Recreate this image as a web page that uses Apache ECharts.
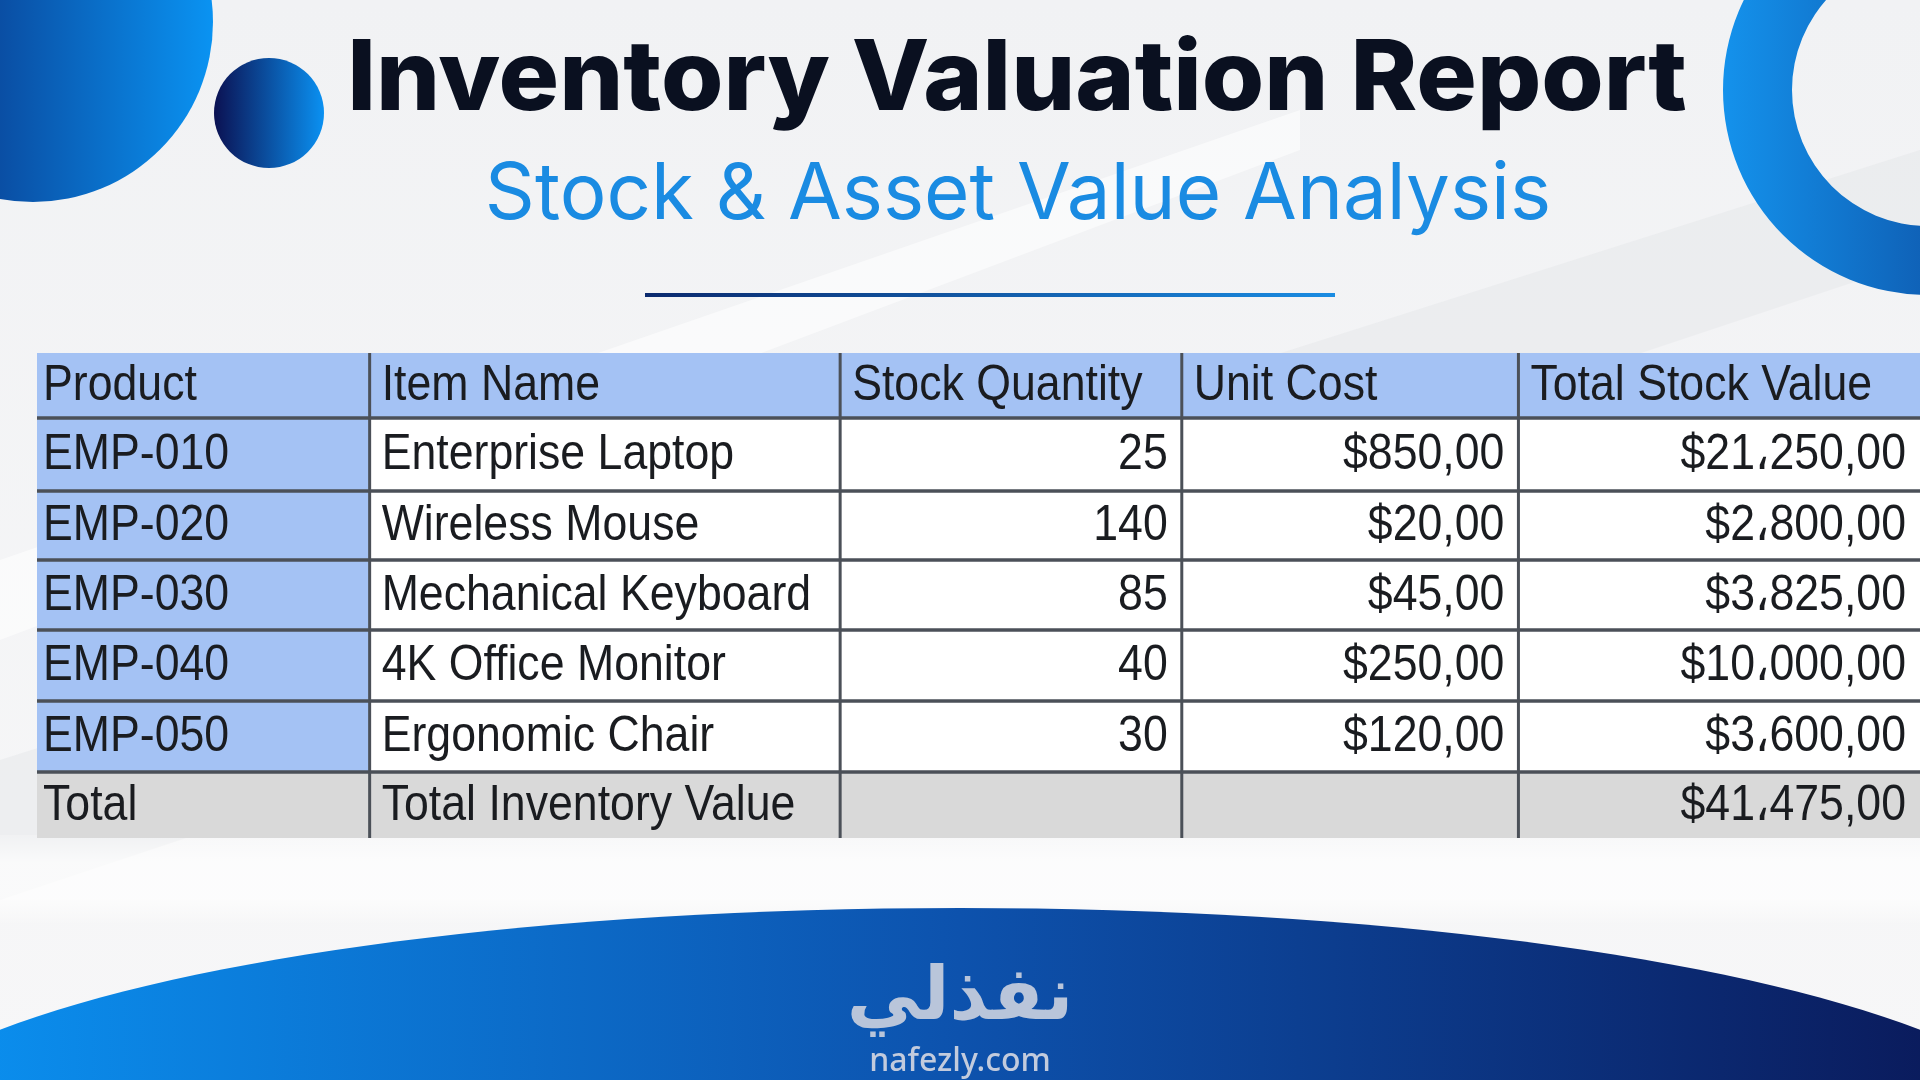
<!DOCTYPE html>
<html>
<head>
<meta charset="utf-8">
<title>Inventory Valuation Report</title>
<script src="https://cdn.jsdelivr.net/npm/echarts@6/dist/echarts.min.js"></script>
<style>
  html, body { margin: 0; padding: 0; width: 1920px; height: 1080px; overflow: hidden; background: #f3f4f6; }
  #chart { width: 1920px; height: 1080px; }
</style>
</head>
<body>
<div id="chart"></div>
<script>
// ---------------- DATA ----------------
const headers = ['Product', 'Item Name', 'Stock Quantity', 'Unit Cost', 'Total Stock Value'];
const productIds = ['EMP-010', 'EMP-020', 'EMP-030', 'EMP-040', 'EMP-050'];
const itemNames = ['Enterprise Laptop', 'Wireless Mouse', 'Mechanical Keyboard', '4K Office Monitor', 'Ergonomic Chair'];
const stockQty = [25, 140, 85, 40, 30];
const unitCost = [850, 20, 45, 250, 120];
const totalValue = [21250, 2800, 3825, 10000, 3600];
const totalLabel = 'Total';
const totalName = 'Total Inventory Value';
const totalInventory = 41475;

const titleText = 'Inventory Valuation Report';
const subtitleText = 'Stock & Asset Value Analysis';
const logoArabic = 'نفذلي';
const logoLatin = 'nafezly.com';

// ---------------- LAYOUT ----------------
const colWidths = [333, 471, 342, 337, 402];
const rowHeights = [65, 73, 69, 70, 71, 71, 66];
const colEdges = [0];
colWidths.forEach(w => colEdges.push(colEdges[colEdges.length - 1] + w));
const rowEdges = [0];
rowHeights.forEach(h => rowEdges.push(rowEdges[rowEdges.length - 1] + h));
const tableW = colEdges[colEdges.length - 1];
const tableH = rowEdges[rowEdges.length - 1];

function money(v) {
  const s = Math.round(v).toString().replace(/\B(?=(\d{3})+(?!\d))/g, '\u060C');
  return '$' + s + ',00';
}

const nRows = productIds.length + 2;
const nCols = headers.length;
function cellInfo(c, r) {
  if (r === 0) return { text: headers[c], align: 'left', kind: 'header' };
  if (r === nRows - 1) {
    const t = [totalLabel, totalName, '', '', money(totalInventory)][c];
    return { text: t, align: c === 4 ? 'right' : 'left', kind: 'total' };
  }
  const i = r - 1;
  const vals = [productIds[i], itemNames[i], String(stockQty[i]), money(unitCost[i]), money(totalValue[i])];
  return { text: vals[c], align: c >= 2 ? 'right' : 'left', kind: c === 0 ? 'key' : 'body' };
}

const cells = [];
for (let r = 0; r < nRows; r++) for (let c = 0; c < nCols; c++) cells.push([c, r]);

const fills = { header: '#a4c2f4', key: '#a4c2f4', total: '#d9d9d9', body: '#ffffff' };
const borderColor = '#4b5058';

const chart = echarts.init(document.getElementById('chart'), null, { renderer: 'canvas', width: 1920, height: 1080 });

const option = {
  animation: false,
  backgroundColor: {
    type: 'linear', x: 0, y: 0, x2: 0, y2: 1,
    colorStops: [{ offset: 0, color: '#f1f2f4' }, { offset: 1, color: '#f7f7f8' }]
  },
  grid: { left: 37, top: 353, width: tableW, height: tableH },
  xAxis: { type: 'value', min: 0, max: tableW, show: false },
  yAxis: { type: 'value', min: 0, max: tableH, inverse: true, show: false },
  graphic: [
    // soft diagonal bands
    { type: 'polygon', silent: true, z: -10,
      shape: { points: [[0, 760], [0, 900], [1920, 260], [1920, 150]] },
      style: { fill: 'rgba(225,227,231,0.40)' } },
    { type: 'polygon', silent: true, z: -10,
      shape: { points: [[0, 560], [0, 640], [1300, 150], [1300, 110]] },
      style: { fill: 'rgba(255,255,255,0.55)' } },
    { type: 'rect', silent: true, z: -10,
      shape: { x: 0, y: 835, width: 1920, height: 90 },
      style: { fill: { type: 'linear', x: 0, y: 0, x2: 0, y2: 1,
        colorStops: [{ offset: 0, color: 'rgba(255,255,255,0.2)' }, { offset: 0.3, color: 'rgba(255,255,255,0.7)' },
                     { offset: 0.7, color: 'rgba(255,255,255,0.7)' }, { offset: 1, color: 'rgba(255,255,255,0)' }] } } },
    // big top-left circle
    { type: 'circle', silent: true, shape: { cx: 33, cy: 22, r: 180 },
      style: { fill: { type: 'linear', x: 0, y: 0, x2: 1, y2: 0,
        colorStops: [{ offset: 0, color: '#0a1f6e' }, { offset: 1, color: '#0a93f2' }] } } },
    // small circle
    { type: 'circle', silent: true, shape: { cx: 269, cy: 113, r: 55 },
      style: { fill: { type: 'linear', x: 0, y: 0, x2: 1, y2: 0,
        colorStops: [{ offset: 0, color: '#0b1152' }, { offset: 1, color: '#0a91f2' }] } } },
    // top-right ring
    { type: 'ring', silent: true, shape: { cx: 1928, cy: 90, r: 205, r0: 136 },
      style: { fill: { type: 'linear', x: 0, y: 0, x2: 1, y2: 0,
        colorStops: [{ offset: 0, color: '#1492ec' }, { offset: 1, color: '#0a2f80' }] } } },
    // underline
    { type: 'rect', silent: true, shape: { x: 645, y: 293, width: 690, height: 4 },
      style: { fill: { type: 'linear', x: 0, y: 0, x2: 1, y2: 0,
        colorStops: [{ offset: 0, color: '#0b2a6e' }, { offset: 1, color: '#1a8ce2' }] } } },
    // title
    { type: 'text', silent: true, x: 1017, y: 81, scaleX: 1.03,
      style: { text: titleText, fill: '#0a1020', fontFamily: 'Inter', fontWeight: 800, fontSize: 98,
        align: 'center', verticalAlign: 'middle', textAlign: 'center', textVerticalAlign: 'middle' } },
    // subtitle
    { type: 'text', silent: true, x: 1018, y: 196,
      style: { text: subtitleText, fill: '#1a8be2', fontFamily: 'Inter', fontWeight: 400, fontSize: 78,
        align: 'center', verticalAlign: 'middle', textAlign: 'center', textVerticalAlign: 'middle' } },
    // bottom arc
    { type: 'ellipse', silent: true, shape: { cx: 960, cy: 1146, rx: 1100, ry: 238 },
      style: { fill: { type: 'linear', x: 0, y: 0, x2: 1, y2: 0,
        colorStops: [{ offset: 0, color: '#0a95f5' }, { offset: 0.5, color: '#0d52ad' }, { offset: 1, color: '#0a1452' }] } } },
    // logo
    { type: 'text', silent: true, x: 960, y: 1000,
      style: { text: logoArabic, fill: '#b9c5da', fontFamily: 'DejaVu Sans', fontWeight: 'bold', fontSize: 74,
        align: 'center', verticalAlign: 'middle', textAlign: 'center', textVerticalAlign: 'middle' } },
    { type: 'text', silent: true, x: 960, y: 1062,
      style: { text: logoLatin, fill: '#c2cbdd', fontFamily: 'Noto Sans', fontWeight: 500, fontSize: 32,
        align: 'center', verticalAlign: 'middle', textAlign: 'center', textVerticalAlign: 'middle' } }
  ],
  series: [{
    type: 'custom',
    coordinateSystem: 'cartesian2d',
    silent: true,
    data: cells,
    renderItem: function (params, api) {
      const c = api.value(0), r = api.value(1);
      const p0 = api.coord([colEdges[c], rowEdges[r]]);
      const p1 = api.coord([colEdges[c + 1], rowEdges[r + 1]]);
      const info = cellInfo(c, r);
      const pad = info.align === 'right' ? 14 : (c === 0 ? 6 : 12);
      const tx = info.align === 'right' ? p1[0] - pad : p0[0] + pad;
      const ty = (p0[1] + p1[1]) / 2 + 1;
      const children = [
        { type: 'rect', z2: 0,
          shape: { x: p0[0], y: p0[1], width: p1[0] - p0[0], height: p1[1] - p0[1] },
          style: { fill: fills[info.kind] } }
      ];
      if (c < nCols - 1) {
        children.push({ type: 'line', z2: 2,
          shape: { x1: p1[0], y1: p0[1], x2: p1[0], y2: p1[1] },
          style: { stroke: borderColor, lineWidth: 3 } });
      }
      if (r < nRows - 1) {
        children.push({ type: 'line', z2: 2,
          shape: { x1: p0[0], y1: p1[1], x2: p1[0], y2: p1[1] },
          style: { stroke: borderColor, lineWidth: 3.5 } });
      }
      children.push({ type: 'text', z2: 3, x: tx, y: ty, scaleX: 1.015, scaleY: 1.15,
        style: { text: info.text, x: 0, y: 0, fill: '#1a1c20',
          fontFamily: '"Liberation Sans", Arial, "DejaVu Sans"', fontSize: 44,
          align: info.align, verticalAlign: 'middle',
          textAlign: info.align, textVerticalAlign: 'middle' } });
      return { type: 'group', children: children };
    }
  }]
};
chart.setOption(option);
</script>
</body>
</html>
